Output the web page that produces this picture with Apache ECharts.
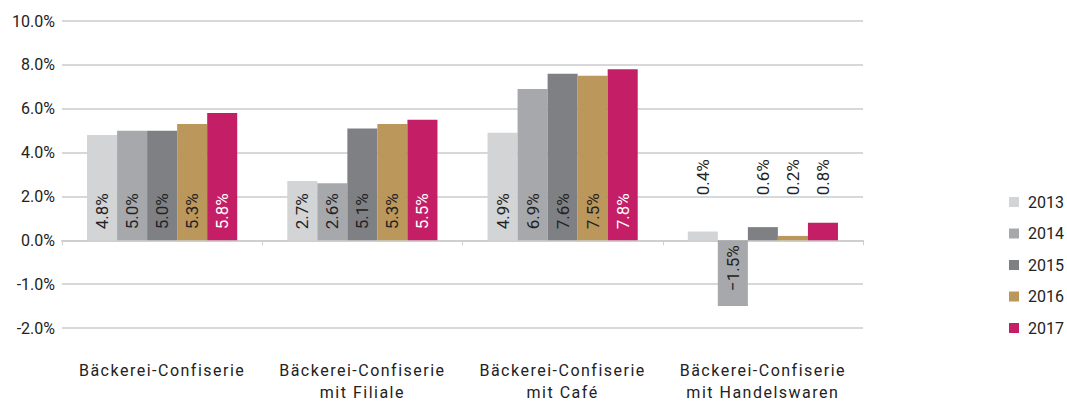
<!DOCTYPE html>
<html>
<head>
<meta charset="utf-8">
<script src="https://cdn.jsdelivr.net/npm/echarts@6/dist/echarts.min.js"></script>
<style>
  html, body { margin: 0; padding: 0; background: #fff; }
  #chart { width: 1067px; height: 403px; }
  /* wider tracking for the centred category names */
  #chart text[text-anchor="middle"] { letter-spacing: 1.5px; }
</style>
</head>
<body>
<div id="chart"></div>
<script>
// Growth rates per business type, 2013–2017 (percent)
const categories = [
  'Bäckerei-Confiserie',
  'Bäckerei-Confiserie\nmit Filiale',
  'Bäckerei-Confiserie\nmit Café',
  'Bäckerei-Confiserie\nmit Handelswaren'
];
const years = ['2013', '2014', '2015', '2016', '2017'];
const values2013 = [4.8, 2.7, 4.9, 0.4];
const values2014 = [5.0, 2.6, 6.9, -1.5];
const values2015 = [5.0, 5.1, 7.6, 0.6];
const values2016 = [5.3, 5.3, 7.5, 0.2];
const values2017 = [5.8, 5.5, 7.8, 0.8];
const yTicks = [-2, -1, 0, 2, 4, 6, 8, 10];

const seriesValues = [values2013, values2014, values2015, values2016, values2017];
const colors = ['#D3D4D6', '#A7A8AC', '#7F8084', '#BC975B', '#C41E67'];

// The value axis uses double scale below zero: one percent under the
// baseline takes the same height as two percent above it.
const toAxis = v => (v < 0 ? v * 2 : v);
const fromAxis = a => (a < 0 ? a / 2 : a);
const FONT = 'Roboto';

const fmtPct = v => (v < 0 ? '\u2212' : '') + Math.abs(v).toFixed(1) + '%';

const series = seriesValues.map((vals, si) => ({
  name: years[si],
  type: 'bar',
  barGap: '0%',
  barCategoryGap: '25%',
  itemStyle: { color: colors[si] },
  data: vals.map((v, ci) => {
    const item = { value: toAxis(v), raw: v };
    if (v < 0) {
      item.label = { position: 'insideTop', align: 'right', distance: 5 };
    } else if (ci === 3) {
      // small bars: the label is lifted above the bar (offset runs along the text)
      item.label = { position: 'insideBottom', offset: [34, 0], color: '#222' };
    }
    return item;
  }),
  label: {
    show: true,
    position: 'insideBottom',
    rotate: 90,
    align: 'left',
    verticalAlign: 'middle',
    distance: 11,
    fontFamily: FONT,
    fontSize: 17,
    color: (si === 4 ? '#fff' : '#222'),
    formatter: p => fmtPct(p.data.raw)
  }
}));

const chart = echarts.init(document.getElementById('chart'), null, { renderer: 'svg' });
chart.setOption({
  animation: false,
  backgroundColor: '#fff',
  grid: { left: 62, right: 204, top: 21, bottom: 75, containLabel: false },
  legend: {
    orient: 'vertical',
    left: 1004,
    top: 189,
    itemWidth: 10,
    itemHeight: 10,
    itemGap: 15.5,
    icon: 'rect',
    data: years,
    textStyle: { fontFamily: FONT, fontSize: 16, color: '#222', lineHeight: 16, padding: [0, 0, 0, 4] }
  },
  xAxis: [
    {
      type: 'category',
      data: categories,
      position: 'bottom',
      axisLine: { show: false, onZero: false },
      axisTick: { show: false },
      axisLabel: {
        margin: 31,
        fontFamily: FONT,
        fontSize: 16,
        color: '#222',
        lineHeight: 22
      }
    },
    {
      type: 'category',
      data: categories,
      position: 'bottom',
      axisLine: { show: true, onZero: true, lineStyle: { color: '#cfcfcf', width: 2 } },
      axisTick: { show: true, length: 5, inside: false, lineStyle: { color: '#cfcfcf' } },
      axisLabel: { show: false }
    }
  ],
  yAxis: {
    type: 'value',
    min: toAxis(yTicks[0]),
    max: toAxis(yTicks[yTicks.length - 1]),
    interval: 2,
    axisLine: { show: false },
    axisTick: { show: false },
    splitLine: { lineStyle: { color: '#cbcbcb', width: 1.5 } },
    axisLabel: {
      margin: 7,
      fontFamily: FONT,
      fontSize: 16,
      color: '#222',
      formatter: a => fromAxis(a).toFixed(1) + '%'
    }
  },
  series: series
});
</script>
</body>
</html>
